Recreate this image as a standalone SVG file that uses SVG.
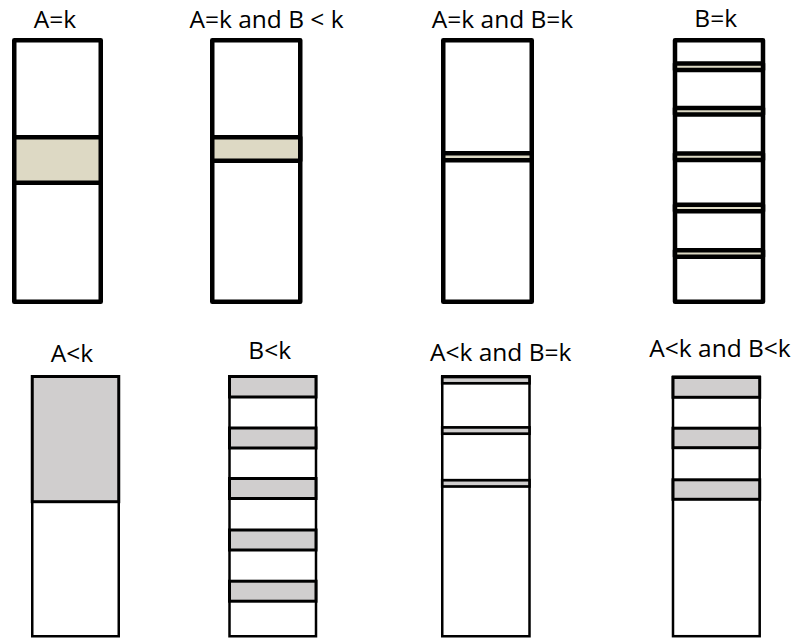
<svg xmlns="http://www.w3.org/2000/svg" width="798" height="638" viewBox="0 0 798 638">
<style>
  .lbl { font-family: "Open Sans", "Liberation Sans", sans-serif; font-size: 24.5px; fill: #000; text-anchor: middle; }
  .outT { fill: #fff; stroke: #000; stroke-width: 4.5; stroke-linejoin: round; }
  .bandT { fill: #DDD9C4; stroke: #000; stroke-width: 4.5; stroke-linejoin: round; }
  .outB { fill: #fff; stroke: #000; stroke-width: 2.5; }
  .bandB { fill: #D0CECE; stroke: #000; stroke-width: 3; }
  .thinB { fill: #D0CECE; stroke: #000; stroke-width: 2.7; }
</style>
<rect width="798" height="638" fill="#fff"/>

<g id="p1">
  <text class="lbl" x="55" y="28">A=k</text>
  <rect class="outT" x="14.25" y="40.25" width="86.5" height="261.5"/>
  <rect class="bandT" x="14.25" y="137.25" width="86.5" height="45.5"/>
</g>

<g id="p2">
  <text class="lbl" x="266.5" y="28">A=k and B &lt; k</text>
  <rect class="outT" x="212.25" y="40.25" width="88" height="261.5"/>
  <rect class="bandT" x="212.25" y="137.25" width="88" height="23.5"/>
</g>

<g id="p3">
  <text class="lbl" x="502.5" y="28">A=k and B=k</text>
  <rect class="outT" x="443.25" y="40.25" width="88.5" height="261.5"/>
  <rect class="bandT" x="443.25" y="153.2" width="88.5" height="7"/>
</g>

<g id="p4">
  <text class="lbl" x="715.7" y="27">B=k</text>
  <rect class="outT" x="675" y="40.25" width="88" height="261.5"/>
  <rect class="bandT" x="675" y="63.4" width="88" height="6.5"/>
  <rect class="bandT" x="675" y="108" width="88" height="6.5"/>
  <rect class="bandT" x="675" y="153.4" width="88" height="6.5"/>
  <rect class="bandT" x="675" y="204.8" width="88" height="6.5"/>
  <rect class="bandT" x="675" y="250.2" width="88" height="6.5"/>
</g>

<g id="p5">
  <text class="lbl" x="72" y="362">A&lt;k</text>
  <rect class="outB" x="32.25" y="376.25" width="86.5" height="260"/>
  <rect class="bandB" x="32.25" y="376.5" width="86.5" height="125.2"/>
</g>

<g id="p6">
  <text class="lbl" x="269.7" y="359">B&lt;k</text>
  <rect class="outB" x="229.5" y="376.25" width="86.5" height="260"/>
  <rect class="bandB" x="229.5" y="376.5" width="86.5" height="20.5"/>
  <rect class="bandB" x="229.5" y="428" width="86.5" height="20"/>
  <rect class="bandB" x="229.5" y="478.5" width="86.5" height="20"/>
  <rect class="bandB" x="229.5" y="530" width="86.5" height="20"/>
  <rect class="bandB" x="229.5" y="581.2" width="86.5" height="20"/>
</g>

<g id="p7">
  <text class="lbl" x="500.7" y="361">A&lt;k and B=k</text>
  <rect class="outB" x="442.25" y="376.25" width="87.25" height="260"/>
  <rect class="thinB" x="442.25" y="377" width="87.25" height="6.3"/>
  <rect class="thinB" x="442.25" y="427.4" width="87.25" height="6.3"/>
  <rect class="thinB" x="442.25" y="480.2" width="87.25" height="6.3"/>
</g>

<g id="p8">
  <text class="lbl" x="720" y="357">A&lt;k and B&lt;k</text>
  <rect class="outB" x="673" y="376.7" width="86.7" height="259.5"/>
  <rect class="bandB" x="673" y="377.5" width="86.7" height="19.8"/>
  <rect class="bandB" x="673" y="428.2" width="86.7" height="19.5"/>
  <rect class="bandB" x="673" y="479.8" width="86.7" height="19.5"/>
</g>

<g id="connectors"></g>
</svg>
